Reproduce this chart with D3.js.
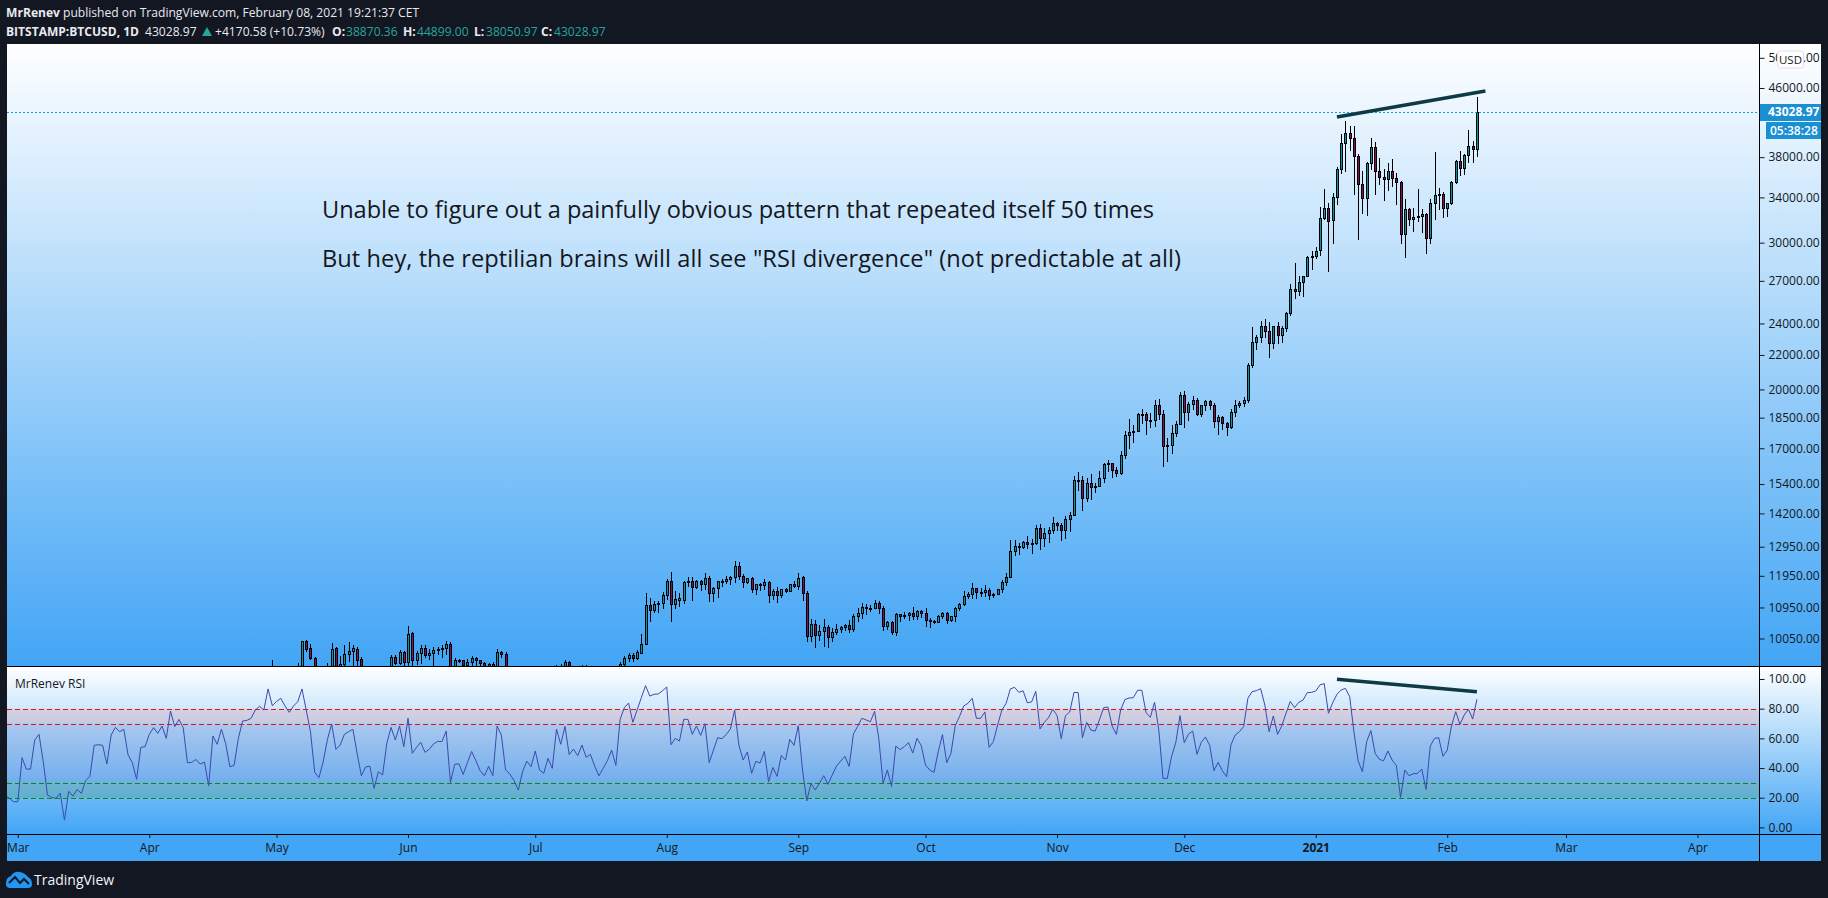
<!DOCTYPE html>
<html><head><meta charset="utf-8">
<script src="https://cdn.jsdelivr.net/npm/d3@7/dist/d3.min.js"></script>
<style>
html,body{margin:0;padding:0;background:#131722;overflow:hidden}
svg{display:block}
text{font-family:"Open Sans",sans-serif}
</style></head><body>
<script>
// ---- DATA (BTCUSD daily) ----
const priceTicks=[50000,46000,38000,34000,30000,27000,24000,22000,20000,18500,17000,15400,14200,12950,11950,10950,10050];
const rsiTicks=[100,80,60,40,20,0];
const rsiLevels=[80,70,30,20];
const lastPrice=43028.97;
const candleStart="2020-04-30";
const apr2020=[[8660,9470,8620,8620]];
const may2020=[[8620,9050,8620,8820],[8820,9000,8760,8970],[8970,9190,8700,8890],[8890,8950,8530,8880],[8880,9110,8760,9020],[9020,9400,8930,9150],
[9150,9990,9050,9985],[9985,10020,9690,9760],[9780,9890,9465,9510],[9515,9555,8200,8720],[8720,9170,8210,8560],[8560,8970,8530,8820],[8820,9385,8800,9310],
[9310,9920,9260,9760],[9780,9830,9150,9310],[9310,9578,9220,9375],[9375,9873,9310,9640],[9640,9950,9420,9715],[9705,9873,9320,9785],[9770,9820,9300,9475],
[9505,9555,8800,9060],[9060,9270,8940,9170],[9170,9310,9090,9180],[9180,9300,8700,8720],[8720,8980,8630,8900],[8900,9010,8700,8840],[8840,9220,8810,9200],
[9200,9610,9110,9555],[9555,9600,9330,9385],[9385,9730,9330,9680],[9680,9710,9310,9410]];
const jun2020=[[9410,10400,9320,10170],[10190,10225,8950,9480],[9480,9710,9345,9660],[9660,9875,9370,9780],[9780,9860,9530,9600],[9600,9760,9470,9660],
[9660,9810,9320,9740],[9740,9815,9605,9770],[9770,9875,9535,9780],[9780,9985,9590,9890],[9890,9960,9080,9270],[9270,9525,9240,9460],[9460,9500,9380,9475],
[9470,9480,9240,9335],[9335,9495,8950,9430],[9430,9580,9320,9525],[9520,9555,9230,9470],[9465,9480,9280,9385],[9385,9410,9170,9300],[9300,9400,9220,9360],
[9360,9420,8950,9300],[9300,9770,9280,9680],[9680,9720,9520,9620],[9620,9670,9200,9280],[9280,9320,9090,9250],[9250,9290,9050,9160],[9160,9190,8950,9000],
[9000,9190,8900,9120],[9120,9210,9000,9190],[9190,9200,9080,9130]];
const jul2020=[[9130,9290,9100,9230],[9230,9270,8950,9090],[9090,9130,9030,9060],[9060,9190,9040,9130],[9130,9150,8900,9080],[9080,9345,9070,9320],
[9320,9370,9200,9250],[9250,9470,9230,9425],[9425,9440,9150,9235],[9235,9310,9130,9290],[9290,9310,9190,9235],[9235,9345,9150,9300],[9300,9340,9200,9240],
[9240,9280,9110,9260],[9260,9280,9140,9190],[9190,9210,9000,9130],[9130,9190,9070,9160],[9160,9210,9130,9170],[9170,9230,9120,9210],[9210,9220,9130,9160],
[9160,9410,9140,9365],[9365,9575,9290,9515],[9515,9650,9430,9595],[9595,9650,9430,9515],[9515,9730,9460,9685],[9665,10170,9620,9910],[9905,11395,9880,11016],
[11016,11240,10530,10875],[10875,11150,10790,11065],[11065,11150,10790,11085],[11085,11430,10910,11325]];
const aug2020=[[11330,11850,11180,11790],[11790,12070,10505,11040],[11040,11460,10900,11200],[11190,11410,10950,11230],[11180,11790,11040,11740],
[11740,11900,11580,11770],[11770,11910,11150,11600],[11600,11810,11530,11770],[11770,11820,11460,11680],[11680,12040,11500,11880],[11880,11950,11130,11390],
[11390,11600,11130,11570],[11570,11790,11230,11780],[11780,11850,11590,11770],[11770,11950,11690,11850],[11850,11950,11650,11910],[11905,12460,11730,12290],
[12290,12400,11800,11960],[11960,12020,11570,11760],[11760,11890,11680,11870],[11870,11900,11390,11510],[11510,11680,11330,11670],[11670,11710,11470,11650],
[11650,11830,11500,11750],[11750,11770,11100,11330],[11330,11530,11170,11460],[11460,11590,11100,11320],[11320,11530,11240,11530],[11530,11570,11400,11470],
[11470,11690,11450,11680],[11680,11780,11570,11610]];
const sep2020=[[11610,12060,11480,11880],[11900,11950,11150,11390],[11390,11460,9950,10120],[10120,10620,9960,10460],[10460,10570,9800,10160],
[10160,10440,9970,10260],[10260,10600,9820,10380],[10380,10440,9790,10080],[10080,10350,9950,10230],[10230,10470,10150,10320],[10320,10410,10190,10380],
[10380,10470,10270,10440],[10440,10580,10190,10330],[10330,10760,10240,10680],[10680,10940,10530,10785],[10785,11100,10620,10950],[10950,11040,10720,10940],
[10940,11030,10800,10930],[10930,11180,10890,11080],[11080,11150,10750,10920],[10920,10990,10250,10410],[10410,10560,10300,10530],[10530,10550,10150,10240],
[10240,10770,10120,10740],[10740,10740,10520,10690],[10690,10820,10620,10730],[10730,10800,10550,10770],[10770,10950,10580,10690],[10690,10860,10580,10840],
[10840,10860,10640,10780]];
const oct2020=[[10780,10920,10380,10580],[10580,10650,10340,10550],[10550,10590,10450,10530],[10530,10710,10490,10680],[10680,10820,10600,10790],
[10790,10810,10460,10580],[10580,10700,10520,10680],[10680,10960,10530,10920],[10920,11100,10830,11050],[11050,11460,10980,11300],[11300,11420,11220,11370],
[11370,11720,11200,11540],[11540,11550,11200,11430],[11430,11550,11280,11440],[11440,11640,11280,11500],[11500,11550,11190,11320],[11320,11400,11250,11360],
[11360,11530,11340,11510],[11510,11810,11410,11750],[11750,12040,11620,11920],[11920,13210,11890,12800],[12800,13190,12610,12970],[12970,13070,12650,12930],
[12930,13160,12880,13120],[13120,13350,12860,13040],[13040,13220,12700,13070],[13070,13760,13030,13640],[13640,13800,12850,13280],[13280,13620,12950,13460],
[13460,13670,13090,13560],[13560,14060,13420,13810]];
const nov2020=[[13810,13870,13520,13760],[13760,13830,13160,13560],[13560,14080,13220,14000],[14000,14260,13500,14150],[14150,15760,14090,15590],
[15590,15920,15100,15590],[15590,15760,14300,14800],[14800,15660,14650,15440],[15440,15830,14730,15290],[15290,15450,15020,15300],[15300,15960,15290,15680],
[15680,16300,15450,16270],[16270,16450,15900,16310],[16310,16330,15640,16000],[16000,16160,15700,15870],[15870,16860,15790,16700],[16700,17820,16500,17650],
[17650,18430,16950,17790],[17790,18120,17240,17810],[17810,18740,17760,18670],[18670,18950,18200,18710],[18710,18770,17620,18400],[18400,18740,18000,18370],
[18370,19400,18020,19140],[19140,19470,18380,18700],[18700,18900,16130,17120],[17120,17470,16360,17150],[17150,18130,16720,17720],[17720,18330,17540,18170],
[18170,19850,18130,19700]];
const dec2020=[[19700,19900,18000,18770],[18770,19320,18330,19230],[19230,19620,18920,19450],[19450,19550,18580,18680],[18680,19180,18510,19150],
[19150,19420,18850,19360],[19360,19400,18900,19170],[19170,19290,17980,18320],[18320,18640,17620,18550],[18550,18560,17900,18240],[18240,18260,17570,18040],
[18040,18950,17950,18800],[18800,19410,18550,19170],[19170,19360,19000,19270],[19270,19560,19050,19440],[19440,21500,19290,21370],[21370,23780,21220,22800],
[22800,23270,22300,23130],[23130,24150,22750,23850],[23850,24280,23030,23480],[23480,24090,21800,22730],[22730,23830,22380,23820],[23820,24080,22700,23240],
[23240,23810,22710,23730],[23730,24750,23410,24670],[24670,26770,24510,26400],[26400,28370,25650,26260],[26260,27400,25900,26950],[26950,27400,25800,27400],
[27400,28950,27300,28800],[28800,29300,27850,28950]];
const jan2021=[[28950,29650,28650,29300],[29400,33080,28950,32150],[32150,34800,31900,33020],[33020,33500,27650,31880],[31980,34380,29900,34030],
[34030,37000,33300,36780],[36780,40500,36300,39490],[39490,42000,36500,40600],[40600,41420,38650,40100],[40100,41420,34260,38090],[38100,38300,30200,35330],
[35330,36600,32500,33930],[33930,37500,32300,37370],[37370,40070,36660,39090],[39090,39620,34240,36600],[36600,37950,35200,35950],[35950,36750,33700,35750],
[35750,37400,34600,36550],[36550,37800,35000,35850],[35850,36350,33300,35450],[35450,35600,29930,30770],[30770,33830,28750,32910],[32910,33000,31390,32000],
[32000,33000,30900,32200],[32200,34800,31800,32280],[32280,32900,30800,32480],[32480,32600,29100,30370],[30370,33830,29900,33460],[33460,38520,31900,34200],
[34200,34900,32800,34300],[34300,34500,32100,33060]];
const feb2021=[[33060,33500,32200,33460],[33460,35600,33300,35450],[35450,37650,35300,37570],[37570,38650,36100,36920],[36920,38300,36200,38200],
[38200,40960,37370,39160],[39160,39700,37350,38870.36],[38870.36,44899,38050.97,43028.97]];

const rsiStart="2020-02-27";
const rsiSpring=[21.8,19.6,17.3,17.3,47.0,39.3,39.3,58.9,62.7,44.3,21.8,20.2,19.6,23.1,4.9,24.3,21.1,25.6,22.9,31.5,34.4,55.3,55.7,55.3,42.7,62.2,67.4,64.5,66.1,48.8,43.6,32.4,53.9,54.4,62.7,67.2,63.4,68.3,60.0,78.4,67.9,72.8,67.2,43.6,43.8,45.8,42.7,44.0,28.1,61.6,56.0,66.1,56.6,40.9,41.8,60.0,71.7,72.1,73.5,79.1,81.6,79.1,93.3,82.0,84.9,87.0,81.8,77.5,81.8,84.7,93.3,79.1,64.5,37.1,33.5,44.3,59.3,69.7,52.6,55.5,62.7,64.5,66.1,49.9,34.8,40.7,41.3,26.3,37.5,35.3,56.6,67.4,58.9,68.3,54.4,73.5,49.9,53.9,57.3,50.6,52.6,56.2,58.0,57.8,64.9,30.3,42.5,42.9,35.7,43.6,51.2,44.9,38.2,34.8,41.1,34.8,68.3,62.2,38.7,36.0,31.5,25.2,37.5,44.7,40.9,51.5,38.7,36.4,46.5,39.8,66.3,56.0,68.1,49.0,52.8,48.3,55.5,47.2,49.2,41.3,34.8,39.8,44.9,52.1,41.8,72.8];
const rsiAutumn=[80.7,83.8,70.8,79.1,87.4,95.5,88.5,89.7,89.9,92.1,94.6,55.7,60.0,58.2,72.8,72.8,62.7,68.3,62.0,69.9,43.6,52.1,60.4,59.8,62.5,66.3,79.1,55.5,45.4,50.8,36.4,44.5,43.4,51.2,30.8,40.4,34.4,48.5,45.4,59.3,55.3,68.5,38.7,17.8,29.7,25.2,29.7,34.8,29.0,35.3,41.3,44.7,47.9,41.1,62.9,68.1,73.5,72.4,71.2,78.2,59.6,29.7,38.7,27.6,54.8,52.4,54.4,57.1,50.1,60.0,55.1,42.0,38.7,37.1,51.0,62.5,43.6,49.9,68.5,74.6,81.8,83.6,87.0,73.5,73.5,77.8,53.9,57.8,69.0,79.1,83.6,93.3,94.4,91.0,92.1,84.0,84.5,91.7,66.3,70.8,73.9,79.6,75.5,59.8,75.3,77.8,91.0,90.8,60.4,70.8,65.6,64.9,72.4,80.7,81.1,68.3,62.7,79.1,86.1,87.2,87.4,92.4,92.4,77.3,74.2,84.3,65.6,33.0,33.0,47.6,57.1,75.3,57.1,62.9,64.9,49.2,57.3,60.9,55.3,38.2,43.8,38.0,34.2,55.5,62.2,64.5];
const rsiWinter=[67.9,87.0,91.5,92.1,93.5,82.5,64.5,75.1,62.7,68.5,76.9,84.9,80.7,84.3,85.8,90.8,91.0,91.9,96.0,96.9,76.9,84.0,89.7,92.6,93.7,88.1,64.5,44.7,37.5,57.8,65.2,49.9,45.8,44.9,51.5,45.4,41.8,20.2,38.7,34.8,36.2,36.4,39.3,25.6,54.8,60.0,60.4,47.9,52.1,68.3,78.0,69.4,75.7,79.6,73.0,86.3];

const priceTrendDates=["2021-01-06","2021-02-10"], priceTrendValues=[42460,45620];
const rsiTrendDates=["2021-01-06","2021-02-08"], rsiTrendValues=[99.8,91.4];
const timeTicks=["2020-03-01","2020-04-01","2020-05-01","2020-06-01","2020-07-01","2020-08-01","2020-09-01","2020-10-01","2020-11-01","2020-12-01","2021-01-01","2021-02-01","2021-03-01","2021-04-01"];
const noteLines=['Unable to figure out a painfully obvious pattern that repeated itself 50 times','But hey, the reptilian brains will all see "RSI divergence" (not predictable at all)'];

// ---- LAYOUT ----
const W=1828,H=898,L=7,R=1759.5,FR=1821,T=44,P1B=666,P2B=834,FB=861;
const D=s=>new Date(s+"T00:00:00Z");
const x=d3.scaleUtc().domain([D("2020-03-01"),D("2021-03-01")]).range([17.8,1566]);
const y=d3.scaleLog().domain([46000,10050]).range([88,638.5]);
const yr=d3.scaleLinear().domain([100,0]).range([679,827.4]);
const svg=d3.select("body").append("svg").attr("width",W).attr("height",H);
const defs=svg.append("defs");
[["g1",T,P1B],["g2",P1B,P2B]].forEach(([id,a,b])=>{
  const g=defs.append("linearGradient").attr("id",id).attr("gradientUnits","userSpaceOnUse").attr("x1",0).attr("x2",0).attr("y1",a).attr("y2",b);
  g.append("stop").attr("offset",0).attr("stop-color","#ffffff");
  g.append("stop").attr("offset",1).attr("stop-color","#42a5f5");
});
defs.append("clipPath").attr("id","c1").append("rect").attr("x",L).attr("y",T).attr("width",R-L).attr("height",P1B-T);
defs.append("clipPath").attr("id","c2").append("rect").attr("x",L).attr("y",P1B).attr("width",R-L).attr("height",P2B-P1B);
defs.append("clipPath").attr("id","c3").append("rect").attr("x",L).attr("y",P2B).attr("width",R-L).attr("height",FB-P2B);

svg.append("rect").attr("x",L).attr("y",T).attr("width",FR-L).attr("height",P1B-T).attr("fill","url(#g1)");
svg.append("rect").attr("x",L).attr("y",P1B).attr("width",FR-L).attr("height",P2B-P1B).attr("fill","url(#g2)");
svg.append("rect").attr("x",L).attr("y",P2B).attr("width",FR-L).attr("height",FB-P2B).attr("fill","#42a5f5");

// ---- CANDLES ----
const rows=[].concat(apr2020,may2020,jun2020,jul2020,aug2020,sep2020,oct2020,nov2020,dec2020,jan2021,feb2021);
const candles=rows.map((r,i)=>({date:d3.utcDay.offset(D(candleStart),i),o:r[0],h:r[1],l:r[2],c:r[3]}));
const pane=svg.append("g").attr("clip-path","url(#c1)");
const px=d=>Math.round(x(d.date))+0.5;
const cg=pane.selectAll("g.c").data(candles).join("g").attr("class","c").attr("shape-rendering","crispEdges");
cg.append("line").attr("x1",px).attr("x2",px).attr("y1",d=>y(d.h)).attr("y2",d=>y(d.l)).attr("stroke","#000");
cg.append("rect").attr("x",d=>px(d)-1).attr("width",2)
  .attr("y",d=>Math.round(y(Math.max(d.o,d.c)))+0.5)
  .attr("height",d=>Math.max(1,Math.round(y(Math.min(d.o,d.c)))-Math.round(y(Math.max(d.o,d.c)))))
  .attr("fill",d=>d.c>=d.o?"#0097a7":"#880e4f").attr("stroke","#000");

// last price dotted line
pane.append("line").attr("x1",L).attr("x2",R).attr("y1",Math.round(y(lastPrice))+.5).attr("y2",Math.round(y(lastPrice))+.5)
  .attr("stroke","#0e9bf0").attr("stroke-dasharray","2 2");
// trend line
const tl=d3.line().x((v,i)=>x(D(priceTrendDates[i]))).y(v=>y(v));
pane.append("path").attr("d",tl(priceTrendValues)).attr("fill","none").attr("stroke","#0d3a44").attr("stroke-width",3.5);

// notes
svg.append("g").selectAll("text").data(noteLines).join("text")
  .attr("x",322).attr("y",(d,i)=>[218,267][i]).attr("fill","#131722").attr("font-size",23.6)
  .attr("textLength",(d,i)=>[832,859][i]).text(d=>d);

// ---- RSI ----
const rp=svg.append("g").attr("clip-path","url(#c2)");
rp.append("rect").attr("x",L).attr("width",R-L).attr("y",yr(70)).attr("height",yr(30)-yr(70)).attr("fill","#3f51b5").attr("fill-opacity",.16);
rp.append("rect").attr("x",L).attr("width",R-L).attr("y",yr(80)).attr("height",yr(70)-yr(80)).attr("fill","#ff5252").attr("fill-opacity",.15);
rp.append("rect").attr("x",L).attr("width",R-L).attr("y",yr(30)).attr("height",yr(20)-yr(30)).attr("fill","#388015").attr("fill-opacity",.18);
rp.selectAll("line.l").data(rsiLevels).join("line").attr("class","l").attr("x1",L).attr("x2",R)
  .attr("y1",d=>Math.round(yr(d))+.5).attr("y2",d=>Math.round(yr(d))+.5)
  .attr("stroke",d=>d>50?"#e01616":"#0a8a10").attr("stroke-dasharray","5 3");
const rsi=[].concat(rsiSpring,rsiAutumn,rsiWinter);
const rl=d3.line().x((v,i)=>x(d3.utcDay.offset(D(rsiStart),i))).y(v=>yr(v));
rp.append("path").attr("d",rl(rsi)).attr("fill","none").attr("stroke","#3a4bab").attr("stroke-width",1);
const tl2=d3.line().x((v,i)=>x(D(rsiTrendDates[i]))).y(v=>yr(v));
rp.append("path").attr("d",tl2(rsiTrendValues)).attr("fill","none").attr("stroke","#0d3a44").attr("stroke-width",3.5);
svg.append("text").attr("x",15).attr("y",688).attr("font-size",12).attr("fill","#131722").text("MrRenev RSI");

// ---- AXES ----
const fmt=d3.format(".2f");
function styleAxis(g){g.select(".domain").remove();g.selectAll("line").attr("stroke","#131722");g.selectAll("text").attr("fill","#131722").attr("font-size",12).attr("font-family",'"Open Sans",sans-serif');}
svg.append("g").attr("transform",`translate(${R},0)`).call(d3.axisRight(y).tickValues(priceTicks).tickFormat(fmt).tickSize(5).tickPadding(4)).call(styleAxis);
svg.append("g").attr("transform",`translate(${R},0)`).call(d3.axisRight(yr).tickValues(rsiTicks).tickFormat(fmt).tickSize(5).tickPadding(4)).call(styleAxis);
const timeFmt=d=>d.getUTCMonth()===0?d.getUTCFullYear()+"":d3.utcFormat("%b")(d);
const ta=svg.append("g").attr("clip-path","url(#c3)").append("g").attr("transform",`translate(0,${P2B})`)
  .call(d3.axisBottom(x).tickValues(timeTicks.map(D)).tickFormat(timeFmt).tickSize(4).tickPadding(5)).call(styleAxis);
ta.selectAll("text").filter(d=>d.getUTCMonth()===0).attr("font-weight",700);

// separators
const sep=svg.append("g").attr("stroke","#000").attr("shape-rendering","crispEdges");
[[L,P1B,FR,P1B],[L,P2B,FR,P2B],[R,T,R,FB]].forEach(a=>sep.append("line").attr("x1",a[0]).attr("y1",a[1]).attr("x2",a[2]).attr("y2",a[3]));

// price tags
const tagBlue="#1a8fd1";
svg.append("rect").attr("x",R+.5).attr("y",104).attr("width",FR-R-.5).attr("height",17).attr("fill",tagBlue);
svg.append("text").attr("x",1768).attr("y",y(lastPrice)+4.3).attr("fill","#fff").attr("font-size",12).attr("font-weight",700).text(fmt(lastPrice));
svg.append("rect").attr("x",1766).attr("y",122).attr("width",FR-1766).attr("height",17).attr("fill",tagBlue);
svg.append("text").attr("x",1770).attr("y",134.5).attr("fill","#fff").attr("font-size",12).attr("font-weight",600).text("05:38:28");
svg.append("rect").attr("x",1777.5).attr("y",51).attr("width",26).attr("height",17).attr("rx",3).attr("fill","#fff").attr("stroke","#dcdfe8");
svg.append("text").attr("x",1790.5).attr("y",63.5).attr("text-anchor","middle").attr("font-size",11.5).attr("fill","#131722").text("USD");

// ---- HEADER ----
const white="#e8eaf0", teal="#26a69a";
const hdr=svg.append("g").attr("font-size",12.1).attr("fill",white);
function tx(xp,yp,s,o={}){const t=hdr.append("text").attr("x",xp).attr("y",yp).attr("fill",o.fill||white).attr("font-weight",o.b?700:400).text(s);if(o.len)t.attr("textLength",o.len).attr("lengthAdjust","spacingAndGlyphs");return t;}
tx(6,17,"MrRenev",{b:1,len:54});
tx(63,17,"published on TradingView.com, February 08, 2021 19:21:37 CET");
tx(6,36,"BITSTAMP:BTCUSD, 1D",{b:1,len:133});
tx(145,36,"43028.97");
hdr.append("path").attr("d","M202 36 L207 27 L212 36 Z").attr("fill",teal);
tx(215,36,"+4170.58 (+10.73%)");
tx(332,36,"O:",{b:1});tx(346,36,"38870.36",{fill:teal});
tx(403,36,"H:",{b:1});tx(417,36,"44899.00",{fill:teal});
tx(474,36,"L:",{b:1});tx(486,36,"38050.97",{fill:teal});
tx(541,36,"C:",{b:1});tx(554,36,"43028.97",{fill:teal});

// ---- FOOTER ----
const logo=svg.append("g");
logo.append("path").attr("d","M6 884 Q6 877 11 876 Q14 871 20 872 Q25 873 28 877 Q32 879 32 884 Q32 888 28 888 L10 888 Q6 888 6 884 Z").attr("fill","#2196f3");
logo.append("path").attr("d","M9 883 L15 877 L20 883 L24 879 L29 884").attr("fill","none").attr("stroke","#131722").attr("stroke-width",2);
svg.append("text").attr("x",34).attr("y",885).attr("font-size",14).attr("fill","#f0f3fa").text("TradingView");
</script>
</body></html>
